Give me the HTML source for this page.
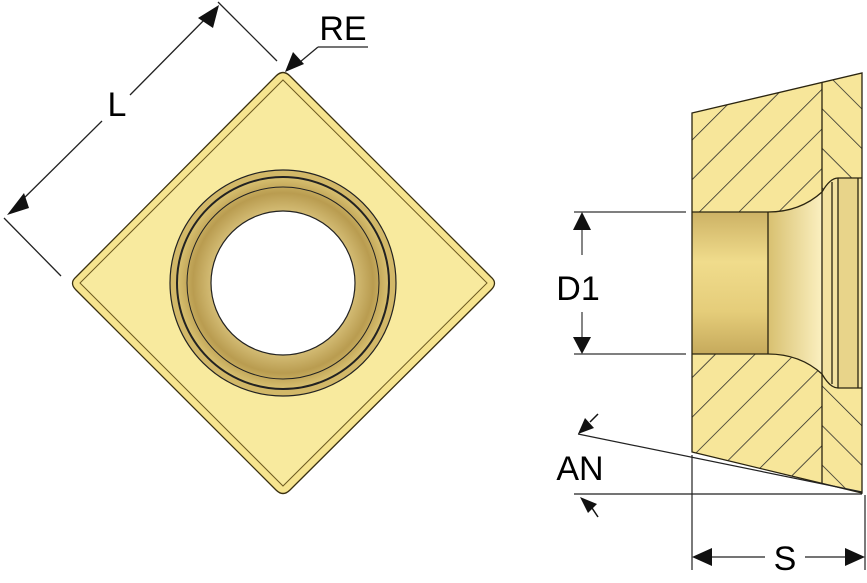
<!DOCTYPE html>
<html><head><style>body{margin:0;background:#fff}svg{display:block}</style></head><body>
<svg width="867" height="583" viewBox="0 0 867 583" xmlns="http://www.w3.org/2000/svg" font-family="Liberation Sans, sans-serif">
<defs>
<pattern id="h1" patternUnits="userSpaceOnUse" width="28" height="28" patternTransform="rotate(45)">
<rect width="28" height="28" fill="#f7e69a"/><line x1="0" y1="0" x2="0" y2="28" stroke="#222" stroke-width="1.5"/>
</pattern>
<pattern id="h2" patternUnits="userSpaceOnUse" width="28" height="28" patternTransform="rotate(-45)">
<rect width="28" height="28" fill="#f7e69a"/><line x1="0" y1="0" x2="0" y2="28" stroke="#222" stroke-width="1.5"/>
</pattern>
<linearGradient id="bore" x1="0" y1="0" x2="0" y2="1">
<stop offset="0" stop-color="#cdb265"/><stop offset="0.35" stop-color="#f0dc8c"/><stop offset="0.7" stop-color="#e5cd7a"/><stop offset="1" stop-color="#c6aa5c"/>
</linearGradient>
<linearGradient id="flare" x1="0" y1="0" x2="1" y2="0">
<stop offset="0" stop-color="#d8c070"/><stop offset="1" stop-color="#fbf0c0"/>
</linearGradient>
<radialGradient id="ring" cx="0.5" cy="0.5" r="0.5">
<stop offset="0.6" stop-color="#fff"/><stop offset="0.66" stop-color="#d6bf78"/><stop offset="0.85" stop-color="#b99c50"/><stop offset="1" stop-color="#d8c070"/>
</radialGradient>
</defs>

<path d="M276,76 Q283,69 290,76 L491,277 Q498,283 491,290 L290,490 Q283,497 276,490 L76,290 Q69,283 76,277 Z" fill="#f6e48f" stroke="#3a3010" stroke-width="1.3"/>
<path d="M283,80 L487,283 L283,486 L80,283 Z" fill="#f8ea9e" stroke="#6d5a20" stroke-width="1"/>
<circle cx="283" cy="283" r="113" fill="#d2b868" stroke="#222" stroke-width="1.2"/>
<circle cx="283" cy="283" r="106" fill="url(#ring)" stroke="#222" stroke-width="2"/>
<circle cx="283" cy="283" r="96" fill="none" stroke="#222" stroke-width="1"/>
<circle cx="283" cy="283" r="72" fill="#fff" stroke="#222" stroke-width="1.2"/>

<g stroke="#222" stroke-width="1.3" fill="none">
<line x1="218" y1="2" x2="277" y2="61"/>
<line x1="4" y1="218" x2="61" y2="276"/>
<line x1="12" y1="210" x2="102" y2="121"/>
<line x1="130" y1="95" x2="212" y2="12"/>
<line x1="300" y1="62" x2="318" y2="47"/>
<line x1="318" y1="47" x2="368" y2="47"/>
</g>
<polygon points="7,215 24,193 29,208" fill="#111"/>
<polygon points="219,5 213,28 198,18" fill="#111"/>
<polygon points="285,72 293,52 304,64" fill="#111"/>
<text x="117" y="116" font-size="34" text-anchor="middle">L</text>
<text x="343" y="40" font-size="34" text-anchor="middle">RE</text>

<path d="M692,113 L822,82 L822,484 L692,452 Z" fill="url(#h1)"/>
<path d="M822,82 L862,73 L862,493 L822,484 Z" fill="url(#h2)"/>
<rect x="692" y="212" width="76" height="142" fill="url(#bore)"/>
<path d="M768,212 Q800,212 822,192 L822,374 Q800,354 768,354 Z" fill="url(#flare)"/>
<path d="M822,192 Q830,178 838,178 L862,178 L862,388 L838,388 Q830,388 822,374 Z" fill="#f3e2a0"/>
<rect x="838" y="178" width="20" height="210" fill="#e8d48a"/>
<g stroke="#2a2410" stroke-width="1.3" fill="none">
<path d="M692,113 L862,73 L862,493 L692,452 Z"/>
<line x1="822" y1="82" x2="822" y2="484"/>
<path d="M692,212 L768,212 Q800,212 822,192 Q830,178 838,178 L862,178"/>
<path d="M692,354 L768,354 Q800,354 822,374 Q830,388 838,388 L862,388"/>
<line x1="768" y1="212" x2="768" y2="354"/>
<line x1="832" y1="182" x2="832" y2="384"/>
<line x1="838" y1="178" x2="838" y2="388"/>
<line x1="858" y1="178" x2="858" y2="388"/>
</g>

<g stroke="#333" stroke-width="1.2">
<line x1="574" y1="212" x2="686" y2="212"/>
<line x1="574" y1="354" x2="686" y2="354"/>
<line x1="582" y1="228" x2="582" y2="255"/>
<line x1="582" y1="312" x2="582" y2="340"/>
</g>
<polygon points="582,212 573,230 591,230" fill="#111"/>
<polygon points="582,354 573,337 591,337" fill="#111"/>
<text x="578" y="300" font-size="34" text-anchor="middle">D1</text>

<g stroke="#222" stroke-width="1.2">
<line x1="578" y1="434" x2="862" y2="492"/>
<line x1="574" y1="494" x2="862" y2="494"/>
<line x1="692" y1="455" x2="692" y2="570"/>
<line x1="865" y1="495" x2="865" y2="570"/>
<line x1="710" y1="557" x2="765" y2="557"/>
<line x1="805" y1="557" x2="848" y2="557"/>
</g>
<polygon points="578,434 585,418 594,428" fill="#111"/>
<polygon points="580,497 597,504 588,513" fill="#111"/>
<line x1="590" y1="422" x2="598" y2="414" stroke="#111" stroke-width="1.5"/>
<line x1="592" y1="508" x2="598" y2="517" stroke="#111" stroke-width="1.5"/>
<text x="580" y="480" font-size="34" text-anchor="middle">AN</text>

<polygon points="692,557 712,548 712,566" fill="#111"/>
<polygon points="865,557 845,548 845,566" fill="#111"/>
<text x="785" y="570" font-size="34" text-anchor="middle">S</text>
</svg>
</body></html>
